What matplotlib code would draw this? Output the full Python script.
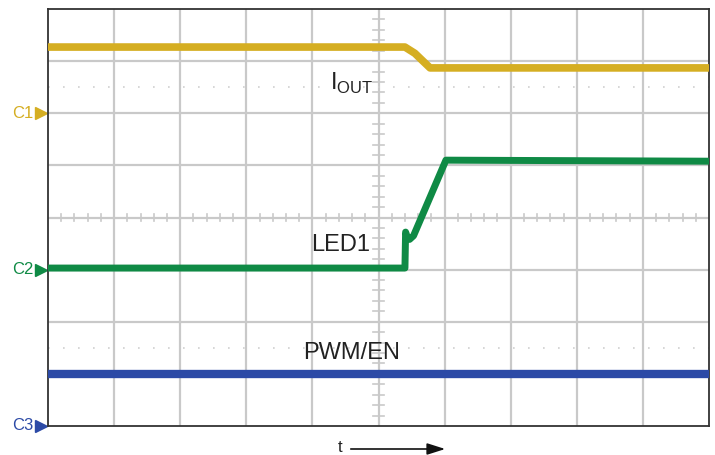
import numpy as np
import matplotlib.pyplot as plt

# scope capture: 10 x 8 divisions, channel offsets C1=6, C2=3, C3=0 div

iout_t = [0.0, 5.40, 5.55, 5.78, 10.0]
iout_v = [7.27, 7.27, 7.15, 6.87, 6.87]

led_t = [0.0, 5.40, 5.41, 5.44, 5.47, 5.53, 6.02, 10.0]
led_v = [3.03, 3.03, 3.72, 3.60, 3.58, 3.65, 5.10, 5.08]

pwm_t = [0.0, 10.0]
pwm_v = [1.0, 1.0]

ch_names = ['C1', 'C2', 'C3']
ch_levels = [6, 3, 0]

gold = '#d5ae22'
green = '#0f8a45'
blue = '#2c4aa6'
ch_colors = [gold, green, blue]

plt.rcParams['font.family'] = ['Liberation Sans', 'DejaVu Sans']

fig = plt.figure(figsize=(7.15, 4.55), dpi=100)
ax = fig.add_axes([48/715, 29/455, 661/715, 417/455])
ax.set_xlim(0, 10)
ax.set_ylim(0, 8)

####################################
############### Grid ###############
####################################

gcol = '#c9c9c9'
for i in range(1, 10):
    ax.axvline(i, color=gcol, lw=1.6, zorder=1)
for j in range(1, 8):
    ax.axhline(j, color=gcol, lw=1.6, zorder=1)

# minor ticks on the centre crosshair
for k in np.arange(0.2, 10, 0.2):
    ax.plot([k, k], [3.94, 4.06], color=gcol, lw=1.2, zorder=1)
for k in np.arange(0.2, 8, 0.2):
    ax.plot([4.91, 5.09], [k, k], color=gcol, lw=1.2, zorder=1)

# dotted reference rows
for lvl in [6.5, 1.5]:
    ax.plot([0, 10], [lvl, lvl], color='#d0d0d0', lw=1.2,
            linestyle=(0, (1, 8)), zorder=1)

####################################
############## Traces ##############
####################################

ax.plot(iout_t, iout_v, color=gold, lw=5.5, solid_joinstyle='round', zorder=3)
ax.plot(led_t, led_v, color=green, lw=5.0, solid_joinstyle='round', zorder=3)
ax.plot(pwm_t, pwm_v, color=blue, lw=6.0, zorder=3)

ax.text(4.27, 6.45, r'I$_{\mathregular{OUT}}$', fontsize=17, color='#222222',
        ha='left', va='baseline')
ax.text(3.98, 3.47, 'LED1', fontsize=17, color='#222222', ha='left', va='center')
ax.text(3.86, 1.41, 'PWM/EN', fontsize=17, color='#222222', ha='left', va='center')

# channel markers on the left
for name, lvl, c in zip(ch_names, ch_levels, ch_colors):
    ax.plot([-0.10], [lvl], marker='>', markersize=9, color=c, clip_on=False)
    ax.text(-0.22, lvl, name, fontsize=12, color=c, ha='right', va='center')

for s in ax.spines.values():
    s.set_color('#333333')
    s.set_linewidth(1.3)
ax.set_xticks([])
ax.set_yticks([])

####################################
############ Time arrow ############
####################################

fig.text(340/715, 8/455, 't', fontsize=12, color='#222222',
         ha='center', va='center')
ax.annotate('', xy=(448, 6), xytext=(348, 6), xycoords='figure pixels',
            textcoords='figure pixels',
            arrowprops=dict(arrowstyle='-|>,head_length=1.1,head_width=0.35',
                            color='#111111', lw=1.2))

fig.savefig('out.png', dpi=100)
